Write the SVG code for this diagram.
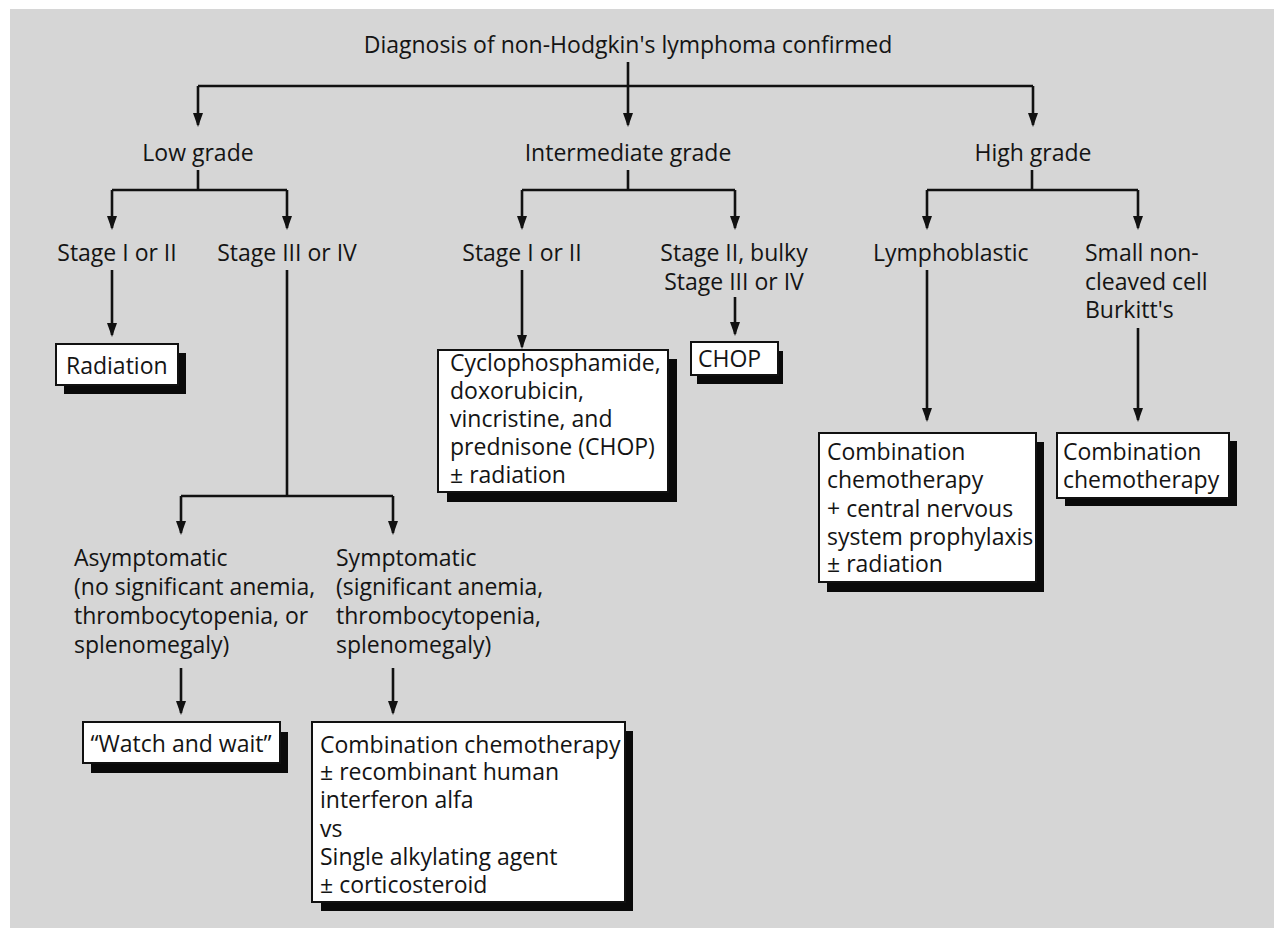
<svg xmlns="http://www.w3.org/2000/svg" width="1274" height="928" viewBox="0 0 1274 928">
<defs>
<marker id="ah" viewBox="0 0 14 10" refX="12" refY="5" markerWidth="14" markerHeight="10" markerUnits="userSpaceOnUse" orient="auto">
<path d="M0,0 L14,5 L0,10 Z" fill="#111"/>
</marker>
<style>
text{font-family:"Open Sans","Noto Sans","Liberation Sans",sans-serif;font-size:23px;fill:#141414}
.c{text-anchor:middle}
.box{fill:#fff;stroke:#111;stroke-width:2}
.sh{fill:#0a0a0a}
.ln{fill:none;stroke:#111;stroke-width:2.6}
.ar{fill:none;stroke:#111;stroke-width:2.6;marker-end:url(#ah)}
</style>
</defs>
<rect x="0" y="0" width="1274" height="928" fill="#fff"/>
<rect x="10" y="9" width="1264" height="919" fill="#d6d6d6"/>

<g id="connectors">
<path class="ln" d="M628,62 V86 M198,86 H1033"/>
<path class="ar" d="M198,86 V125"/>
<path class="ar" d="M628,86 V125"/>
<path class="ar" d="M1033,86 V125"/>
<path class="ln" d="M198,170 V190 M112,190 H287 M628,170 V190 M522,190 H735 M1032,170 V190 M927,190 H1138"/>
<path class="ar" d="M112,190 V228"/>
<path class="ar" d="M287,190 V228"/>
<path class="ar" d="M522,190 V228"/>
<path class="ar" d="M735,190 V228"/>
<path class="ar" d="M927,190 V228"/>
<path class="ar" d="M1138,190 V228"/>
<path class="ar" d="M112,270 V335"/>
<path class="ln" d="M287,270 V496 M181,496 H393"/>
<path class="ar" d="M181,496 V533"/>
<path class="ar" d="M393,496 V533"/>
<path class="ar" d="M522,270 V347"/>
<path class="ar" d="M735,297 V334"/>
<path class="ar" d="M927,270 V420"/>
<path class="ar" d="M1138,328 V420"/>
<path class="ar" d="M181,668 V713"/>
<path class="ar" d="M393,668 V713"/>
</g>

<g id="title"><text class="c" x="628" y="53">Diagnosis of non-Hodgkin's lymphoma confirmed</text></g>
<g id="low"><text class="c" x="198" y="161">Low grade</text></g>
<g id="intermediate"><text class="c" x="628" y="161">Intermediate grade</text></g>
<g id="high"><text class="c" x="1033" y="161">High grade</text></g>

<g id="low-stage12"><text class="c" x="117" y="261">Stage I or II</text></g>
<g id="low-stage34"><text class="c" x="287" y="261">Stage III or IV</text></g>
<g id="int-stage12"><text class="c" x="522" y="261">Stage I or II</text></g>
<g id="int-stage-bulky"><text class="c" x="734" y="261">Stage II, bulky</text><text class="c" x="734" y="290">Stage III or IV</text></g>
<g id="lymphoblastic"><text x="873" y="261">Lymphoblastic</text></g>
<g id="small-noncleaved"><text x="1085" y="261">Small non-</text><text x="1085" y="290">cleaved cell</text><text x="1085" y="318">Burkitt's</text></g>

<g id="radiation">
<rect class="sh" x="64" y="353" width="122" height="41"/>
<rect class="box" x="56" y="344" width="122" height="41"/>
<text x="66" y="374">Radiation</text>
</g>

<g id="chop-full">
<rect class="sh" x="447" y="359" width="230" height="143"/>
<rect class="box" x="438" y="350" width="230" height="142"/>
<text x="450" y="371">Cyclophosphamide,</text>
<text x="450" y="399">doxorubicin,</text>
<text x="450" y="427">vincristine, and</text>
<text x="450" y="455">prednisone (CHOP)</text>
<text x="450" y="483">± radiation</text>
</g>

<g id="chop">
<rect class="sh" x="697" y="351" width="86" height="33"/>
<rect class="box" x="691" y="342" width="87" height="33"/>
<text x="698" y="367">CHOP</text>
</g>

<g id="lympho-box">
<rect class="sh" x="827" y="442" width="217" height="150"/>
<rect class="box" x="819" y="433" width="217" height="149"/>
<text x="827" y="460">Combination</text>
<text x="827" y="488">chemotherapy</text>
<text x="827" y="517">+ central nervous</text>
<text x="827" y="545">system prophylaxis</text>
<text x="827" y="572">± radiation</text>
</g>

<g id="burkitt-box">
<rect class="sh" x="1065" y="441" width="172" height="65"/>
<rect class="box" x="1057" y="433" width="172" height="65"/>
<text x="1063" y="460">Combination</text>
<text x="1063" y="488">chemotherapy</text>
</g>

<g id="asymptomatic">
<text x="74" y="566">Asymptomatic</text>
<text x="74" y="595">(no significant anemia,</text>
<text x="74" y="624">thrombocytopenia, or</text>
<text x="74" y="653">splenomegaly)</text>
</g>

<g id="symptomatic">
<text x="336" y="566">Symptomatic</text>
<text x="336" y="595">(significant anemia,</text>
<text x="336" y="624">thrombocytopenia,</text>
<text x="336" y="653">splenomegaly)</text>
</g>

<g id="watch-wait">
<rect class="sh" x="91" y="732" width="197" height="41"/>
<rect class="box" x="83" y="722" width="197" height="41"/>
<text class="c" x="181" y="752">“Watch and wait”</text>
</g>

<g id="combo-box">
<rect class="sh" x="321" y="731" width="312" height="180"/>
<rect class="box" x="312" y="722" width="313" height="180"/>
<text x="320" y="753">Combination chemotherapy</text>
<text x="320" y="780">± recombinant human</text>
<text x="320" y="808">interferon alfa</text>
<text x="320" y="837">vs</text>
<text x="320" y="865">Single alkylating agent</text>
<text x="320" y="893">± corticosteroid</text>
</g>
</svg>
